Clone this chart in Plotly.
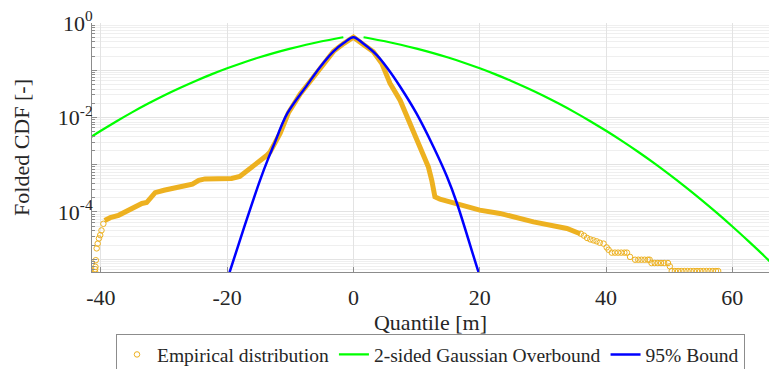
import numpy as np
import plotly.graph_objects as go

# ---------------- data ----------------
# Empirical distribution, dense part (log10 of folded CDF)
emp_x = [-39.4, -38.5, -37.2, -36.0, -34.6, -33.5, -32.75, -31.9, -31.4, -30.0,
         -28.3, -26.5, -25.5, -24.5, -23.5, -21.0, -19.3, -18.0, -17.4, -16.0,
         -15.1, -13.7, -13.2, -12.4, -11.6, -10.3, -9.5, -8.43, -7.0, -5.8,
         -4.5, -3.16, -1.5, 0.0, 1.5, 3.16, 4.5, 5.8, 7.4, 8.97,
         10.55, 11.87, 12.4, 12.9, 13.7, 16.4, 20.0, 23.2, 28.5, 33.8, 35.9]
emp_log = [-4.18, -4.12, -4.07, -3.98, -3.88, -3.82, -3.80, -3.65, -3.59, -3.54,
           -3.48, -3.44, -3.41, -3.33, -3.30, -3.295, -3.29, -3.25, -3.19, -3.05,
           -2.95, -2.80, -2.73, -2.55, -2.33, -1.90, -1.72, -1.50, -1.26, -1.05,
           -0.82, -0.60, -0.43, -0.30, -0.45, -0.61, -0.86, -1.28, -1.64, -2.13,
           -2.69, -3.05, -3.33, -3.68, -3.73, -3.84, -3.96, -4.03, -4.21, -4.35, -4.46]

# Empirical distribution, sparse tail samples (log10 of folded CDF)
tail_x = [-40.9, -40.9, -40.85, -40.8, -40.66, -40.5, -40.3, -40.1, -39.9, -39.6,
          36.0, 36.5, 37.0, 37.5, 38.0, 38.5, 39.0, 39.6, 40.1, 40.4,
          40.9, 41.4, 41.9, 42.4, 42.9, 43.3, 43.8,
          44.6, 45.1, 45.6, 46.1, 46.6, 46.9,
          47.2, 47.7, 48.2, 48.7, 49.2, 49.8, 50.1,
          50.4, 50.9, 51.4, 51.9, 52.4, 52.9, 53.4, 53.9, 54.4, 54.9,
          55.4, 55.9, 56.4, 56.9, 57.4, 57.75]
tail_log = [-5.27, -5.21, -5.16, -5.02, -4.77, -4.67, -4.56, -4.49, -4.39, -4.25,
            -4.46, -4.50, -4.55, -4.58, -4.60, -4.62, -4.65, -4.67, -4.75, -4.80,
            -4.86, -4.86, -4.86, -4.86, -4.86, -4.86, -4.95,
            -5.01, -5.01, -5.01, -5.01, -5.01, -5.01,
            -5.08, -5.08, -5.08, -5.08, -5.08, -5.08, -5.15,
            -5.25, -5.25, -5.25, -5.25, -5.25, -5.25, -5.25, -5.25, -5.25, -5.25,
            -5.25, -5.25, -5.25, -5.25, -5.25, -5.25]

# 2-sided Gaussian overbound (folded CDF), two branches
gauss_x = [-41.6, -40.0, -37.5, -35.0, -32.5, -30.0, -27.5, -25.0, -22.5, -20.0,
           -17.5, -15.0, -12.5, -10.0, -7.5, -5.0, -2.5, -1.6, None,
           1.6, 2.5, 5.0, 7.5, 10.0, 12.5, 15.0, 17.5, 20.0, 22.5, 25.0, 27.5,
           30.0, 32.5, 35.0, 37.5, 40.0, 42.5, 45.0, 47.5, 50.0, 52.5, 55.0,
           57.5, 60.0, 62.5, 65.0, 66.0]
gauss_y = [0.00383, 0.00523, 0.00835, 0.0130, 0.0197, 0.0292, 0.0421, 0.0594, 0.0818, 0.110,
           0.1446, 0.1859, 0.2337, 0.2877, 0.347, 0.4103, 0.4761, 0.5, None,
           0.5, 0.4761, 0.4103, 0.347, 0.2877, 0.2337, 0.1859, 0.1446, 0.110, 0.0818, 0.0594, 0.0421,
           0.0292, 0.0197, 0.0130, 0.00835, 0.00523, 0.0032, 0.00191, 0.00111, 6.26e-4, 3.45e-4, 1.855e-4,
           9.7e-5, 4.94e-5, 2.45e-5, 1.19e-5, 8.8e-6]

# 95% bound (log10 of folded CDF)
bound_x = [-20.0, -19.6, -17.2, -14.8, -13.5, -12.66, -10.5, -7.37, -5.27, -3.16, -1.5,
           0.0, 1.5, 3.7, 5.5, 7.4, 10.0, 12.66, 14.8, 16.4, 19.8, 20.2]
bound_log = [-5.42, -5.27, -4.28, -3.33, -2.87, -2.60, -1.92, -1.32, -0.93, -0.60, -0.42,
             -0.30, -0.43, -0.68, -0.98, -1.35, -1.92, -2.62, -3.25, -3.82, -5.27, -5.42]

x_ticks = [-40, -20, 0, 20, 40, 60]
x_labels = ["-40", "-20", "0", "20", "40", "60"]
y_major = [1, 1e-1, 1e-2, 1e-3, 1e-4, 1e-5]
y_labels = ["10<sup>0</sup>", " ", "10<sup>-2</sup>", " ", "10<sup>-4</sup>", " "]
y_minor = [k * 10.0 ** d for d in range(-6, 0) for k in range(2, 10)]

# ---------------- figure ----------------
ORANGE = "#EDB120"
FONT = "Liberation Serif, DejaVu Serif, serif"
TXT = "#262626"

fig = go.Figure()
fig.add_trace(go.Scatter(
    x=emp_x, y=np.power(10.0, emp_log), mode="lines",
    line=dict(color=ORANGE, width=5), showlegend=False, hoverinfo="skip"))
fig.add_trace(go.Scatter(
    x=tail_x, y=np.power(10.0, tail_log), mode="markers",
    marker=dict(symbol="circle-open", size=5.5, color=ORANGE, line=dict(width=1)),
    name="Empirical distribution"))
fig.add_trace(go.Scatter(
    x=gauss_x, y=gauss_y, mode="lines", line=dict(color="#00FF00", width=2.2),
    line_shape="spline", name="2-sided Gaussian Overbound"))
fig.add_trace(go.Scatter(
    x=bound_x, y=np.power(10.0, bound_log), mode="lines",
    line=dict(color="#0000FF", width=2.5), line_shape="spline",
    name="95% Bound"))

axis_common = dict(
    showline=True, linecolor="#8c8c8c", linewidth=1, mirror=False,
    ticks="inside", tickcolor="#8c8c8c", ticklen=5,
    gridcolor="#e3e3e3", gridwidth=1, zeroline=False,
    tickfont=dict(family=FONT, size=22, color=TXT),
)

fig.update_layout(
    width=769, height=369,
    margin=dict(l=92, r=0, t=23, b=97, autoexpand=False),
    paper_bgcolor="white", plot_bgcolor="white",
    font=dict(family=FONT, color=TXT),
    xaxis=dict(
        range=[-41.4, 65.8], tickmode="array", tickvals=x_ticks, ticktext=x_labels,
        title=dict(text="Quantile [m]", font=dict(family=FONT, size=22, color=TXT), standoff=3),
        automargin=False, ticklabelstandoff=6,
        **axis_common),
    yaxis=dict(
        type="log", range=[-5.27, 0], tickmode="array", tickvals=y_major, ticktext=y_labels,
        title=dict(text="Folded CDF [-]", font=dict(family=FONT, size=22, color=TXT), standoff=22),
        automargin=False, ticklabelstandoff=-6,
        minor=dict(tickmode="array", tickvals=y_minor, showgrid=True, gridcolor="#efefef",
                   ticks="inside", ticklen=3, tickcolor="#8c8c8c"),
        **axis_common),
    legend=dict(
        orientation="h", x=0.5, xanchor="center", y=-0.25, yanchor="top",
        bgcolor="white", bordercolor="#8c8c8c", borderwidth=1,
        font=dict(family=FONT, size=19.5, color=TXT),
        itemwidth=30, tracegroupgap=0),
)

fig.write_html("out.html")
